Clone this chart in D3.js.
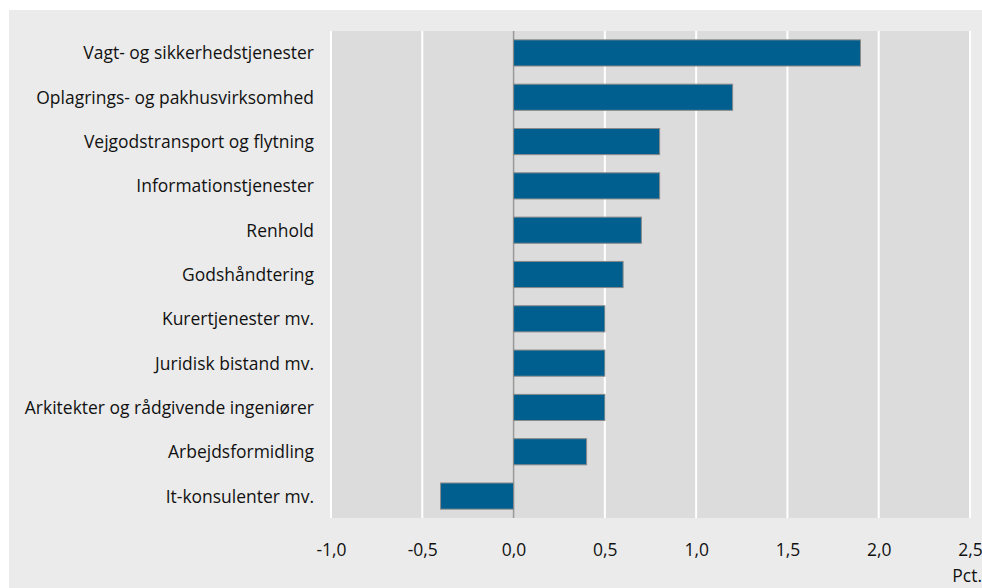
<!DOCTYPE html>
<html><head><meta charset="utf-8">
<script src="https://cdn.jsdelivr.net/npm/d3@7"></script>
<style>body{margin:0;background:#fff;}svg{display:block;}</style>
</head><body>
<svg id="c" width="982" height="588"></svg>
<script>
const categories = ["Vagt- og sikkerhedstjenester","Oplagrings- og pakhusvirksomhed","Vejgodstransport og flytning","Informationstjenester","Renhold","Godshåndtering","Kurertjenester mv.","Juridisk bistand mv.","Arkitekter og rådgivende ingeniører","Arbejdsformidling","It-konsulenter mv."];
const values = [1.9,1.2,0.8,0.8,0.7,0.6,0.5,0.5,0.5,0.4,-0.4];
const ticks = [-1.0,-0.5,0.0,0.5,1.0,1.5,2.0,2.5];
const unitLabel = "Pct.";

const svg = d3.select("#c");
const font = "'Open Sans', sans-serif";
const fs = 19, sx = 0.92;
svg.append("rect").attr("x",9).attr("y",10).attr("width",973).attr("height",578).attr("fill","#ebebeb");
const m = {l:331,r:970,t:31,b:518};
const x = d3.scaleLinear().domain([-1,2.5]).range([m.l,m.r]);
const y = d3.scaleBand().domain(categories).range([m.t,m.b]).paddingInner(0.41).paddingOuter(0.2);
svg.append("rect").attr("x",m.l).attr("y",m.t).attr("width",m.r-m.l).attr("height",m.b-m.t).attr("fill","#dcdcdc");
svg.append("g").selectAll("line").data(ticks.filter(t=>t!==0)).join("line")
  .attr("x1",d=>x(d)).attr("x2",d=>x(d)).attr("y1",m.t).attr("y2",m.b)
  .attr("stroke","#fff").attr("stroke-width",2);
svg.append("line").attr("x1",x(0)).attr("x2",x(0)).attr("y1",m.t).attr("y2",m.b).attr("stroke","#999").attr("stroke-width",1.5);
svg.append("g").selectAll("rect").data(categories).join("rect")
  .attr("x",(d,i)=>x(Math.min(0,values[i])))
  .attr("width",(d,i)=>Math.abs(x(values[i])-x(0)))
  .attr("y",d=>y(d)).attr("height",y.bandwidth())
  .attr("fill","#005f8f").attr("stroke","#8a8a8a").attr("stroke-width",1);
const fmt = v => d3.format(".1f")(v).replace(".",",").replace("−","-");
const xa = d3.axisBottom(x).tickValues(ticks).tickFormat(fmt).tickSize(0).tickPadding(0);
const gx = svg.append("g").attr("transform",`translate(0,${m.b})`).call(xa);
gx.select(".domain").remove();
gx.selectAll("text").attr("dy",null).attr("y",38).attr("transform",`scale(${sx},1)`)
  .attr("font-family",font).attr("font-size",fs).attr("fill","#111");
const ya = d3.axisLeft(y).tickSize(0).tickPadding(17);
const gy = svg.append("g").attr("transform",`translate(${m.l},0)`).call(ya);
gy.select(".domain").remove();
gy.selectAll("text").attr("x",-17/sx).attr("dy","0.34em").attr("transform",`scale(${sx},1)`)
  .attr("font-family",font).attr("font-size",fs).attr("fill","#111");
svg.append("text").attr("transform",`translate(982,582) scale(${sx},1)`).attr("text-anchor","end")
  .attr("font-family",font).attr("font-size",fs).attr("fill","#111").text(unitLabel);
</script>
</body></html>
